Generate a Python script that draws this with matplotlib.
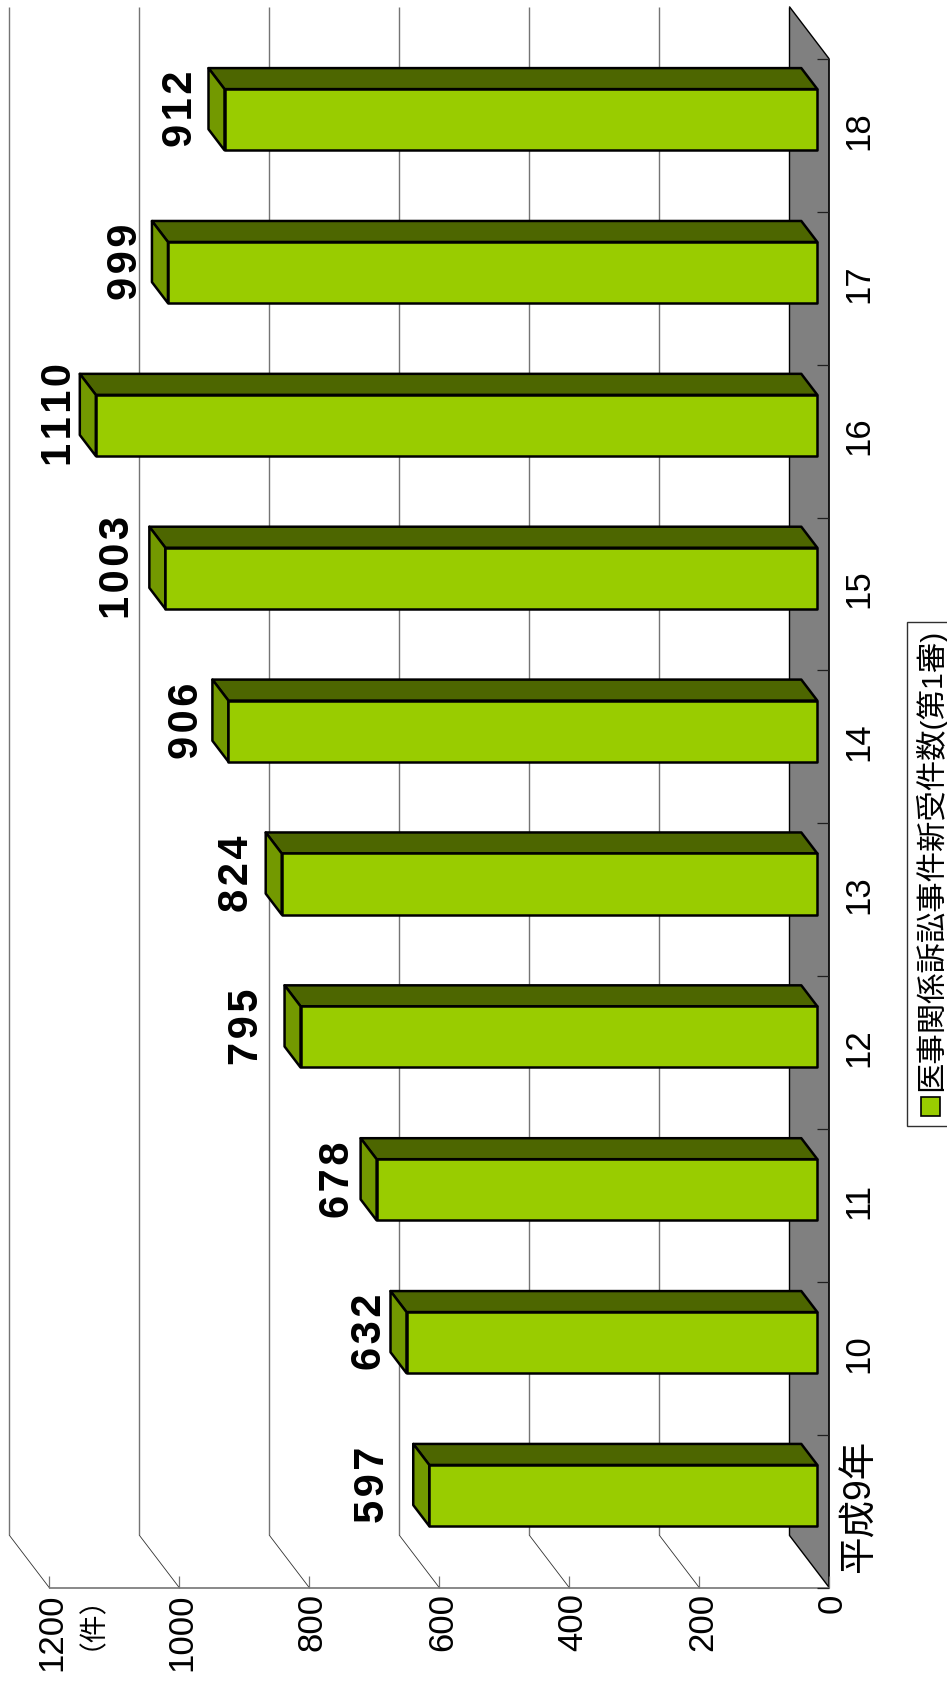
"""Medical lawsuit filings, rotated pseudo-3D bar chart."""
import matplotlib
matplotlib.use("Agg")
import matplotlib.pyplot as plt
from matplotlib.patches import Rectangle

plt.rcParams["font.family"] = ["Liberation Sans", "Noto Sans CJK JP"]

YEARS = ["平成9年", "10", "11", "12", "13", "14", "15", "16", "17", "18"]
CASES = [597, 632, 678, 795, 824, 906, 1003, 1110, 999, 912]
VALUE_TICKS = [0, 200, 400, 600, 800, 1000, 1200]
LEGEND_LABEL = "医事関係訴訟事件新受件数(第1審)"
UNIT_LABEL = "（件）"
# gap in px between the bar end and its hand-placed label
LABEL_GAPS = [20, 1, 3, 18, 9, 5, 11, 0, 6, 8]

W, H = 947, 1682
X0, Y0 = 829.3, 1587.7  # px of value 0, first category edge
PX_PER_VALUE = 0.65
PX_PER_CAT = 152.87
DEPTH_V = 40 / PX_PER_VALUE  # depth of the box in data units
DEPTH_C = 52.5 / PX_PER_CAT

FACE, TOP, SIDE = "#99CC00", "#4D6600", "#739900"
WALL, GRID = "#808080", "#747474"


def shift(v, c, d):
    """Oblique projection: depth d in 0..1 goes up and to the left."""
    return v + d * DEPTH_V, c + d * DEPTH_C


def poly(ax, corners, **kw):
    pts = [shift(*p) for p in corners]
    ax.fill([p[0] for p in pts], [p[1] for p in pts], **kw)


def line(ax, a, b, **kw):
    p, q = shift(*a), shift(*b)
    ax.plot([p[0], q[0]], [p[1], q[1]], solid_capstyle="butt", **kw)


fig = plt.figure(figsize=(W / 100, H / 100), dpi=100)
ax = fig.add_axes([0, 0, 1, 1])
ax.set_xlim(X0 / PX_PER_VALUE, (X0 - W) / PX_PER_VALUE)
ax.set_ylim((Y0 - H) / PX_PER_CAT, Y0 / PX_PER_CAT)
ax.axis("off")

n = len(CASES)

# floor (grey band)
poly(ax, [(0, 0, 0), (0, n, 0), (0, n, 1), (0, 0, 1)], facecolor=WALL, edgecolor="none", zorder=1)
line(ax, (0, 0, 0), (0, 0, 1), color="black", lw=1.0, zorder=2)
line(ax, (0, n, 0), (0, n, 1), color="black", lw=1.0, zorder=2)
line(ax, (0, 0, 1), (0, n, 1), color="black", lw=1.0, zorder=2)
line(ax, (0, 0, 0), (0, n, 0), color="black", lw=1.2, zorder=2)

# gridlines on the back wall plus their diagonals
for v in VALUE_TICKS[1:]:
    line(ax, (v, 0, 1), (v, n, 1), color=GRID, lw=1.0, zorder=1)
    line(ax, (v, 0, 0), (v, 0, 1), color="#303030", lw=0.6, zorder=1)

# axis lines and ticks
line(ax, (0, 0, 0), (VALUE_TICKS[-1], 0, 0), color=GRID, lw=1.2, zorder=2)
for v in VALUE_TICKS:
    line(ax, (v, 0, 0), (v, 12 / PX_PER_CAT, 0), color=GRID, lw=0.9, zorder=2)
    ax.text(v - 3 / PX_PER_VALUE, -5.5 / PX_PER_CAT, str(v), rotation=90, ha="center", va="top",
            fontsize=25, color="black", zorder=5)
for i in range(n + 1):
    line(ax, (0, i, 0), (12 / PX_PER_VALUE, i, 0), color="#202020", lw=0.9, zorder=2)

# bars
BAR_KW = dict(edgecolor="black", linewidth=1.8, joinstyle="round", zorder=3)
for i, (year, val, gap) in enumerate(zip(YEARS, CASES, LABEL_GAPS)):
    c0, c1 = i + 0.3, i + 0.7
    d0, d1 = 0.3, 0.7
    poly(ax, [(0, c1, d0), (val, c1, d0), (val, c1, d1), (0, c1, d1)], facecolor=TOP, **BAR_KW)
    poly(ax, [(val, c0, d0), (val, c1, d0), (val, c1, d1), (val, c0, d1)], facecolor=SIDE, **BAR_KW)
    poly(ax, [(0, c0, d0), (val, c0, d0), (val, c1, d0), (0, c1, d0)], facecolor=FACE, **BAR_KW)

    # label sits at the mid depth of the box, digits spaced apart
    lx = shift(val, i + 0.5, d1)[0]
    ly = shift(val, i + 0.5, 0.5)[1]
    ax.annotate("\u200a".join(str(val)), xy=(lx, ly), xytext=(-gap * 0.72, 0),
                textcoords="offset points", rotation=90, ha="right", va="center",
                fontsize=30, fontweight="bold", color="black", zorder=5)
    ax.text(-46, i + 0.5 + 5 / PX_PER_CAT, year, rotation=90, ha="center", va="center",
            fontsize=27 if i == 0 else 25, color="black", zorder=5)

ax.text((X0 - 78) / PX_PER_VALUE, (Y0 - 1608) / PX_PER_CAT, UNIT_LABEL, rotation=90,
        ha="center", va="center", fontsize=20, color="black", zorder=5)

# legend, cut off by the right edge of the picture
fig.add_artist(Rectangle((907 / W, 1 - 1126 / H), 60 / W, 504 / H, transform=fig.transFigure,
                         facecolor="white", edgecolor="#303030", linewidth=1.0, clip_on=True))
fig.add_artist(Rectangle((921 / W, 1 - 1116 / H), 19 / W, 19 / H, transform=fig.transFigure,
                         facecolor=FACE, edgecolor="black", linewidth=1.2))
fig.text(930 / W, 1 - 1091 / H, LEGEND_LABEL, rotation=90, ha="center", va="bottom",
         fontsize=21.9, color="black")

fig.savefig("out.png", dpi=100)
plt.close(fig)
